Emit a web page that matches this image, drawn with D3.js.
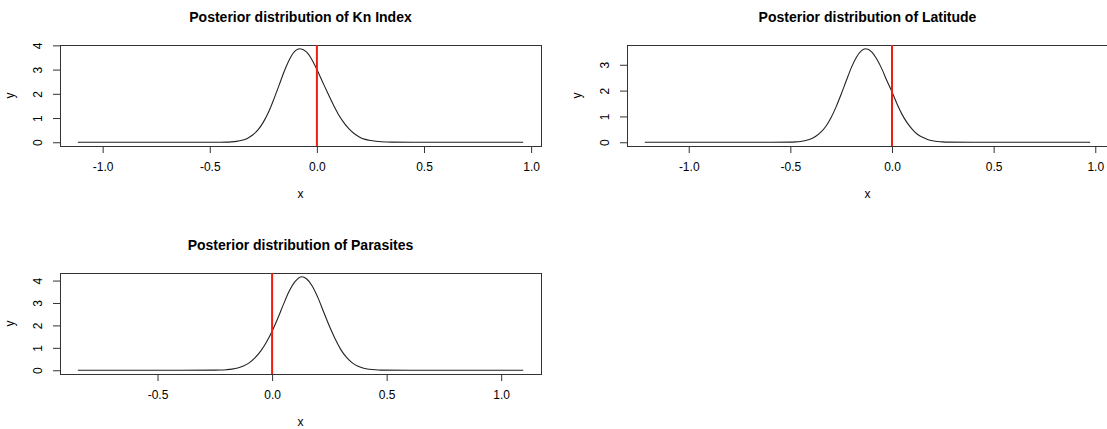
<!DOCTYPE html>
<html>
<head>
<meta charset="utf-8">
<script src="https://cdn.jsdelivr.net/npm/d3@7"></script>
<style>
body { margin: 0; background: #fff; }
text { font-family: "Liberation Sans", Arial, Helvetica, sans-serif; fill: #000; }
</style>
</head>
<body>
<div id="chart"></div>
<script>
// data
var titles = ["Posterior distribution of Kn Index",
              "Posterior distribution of Latitude",
              "Posterior distribution of Parasites"];

var knX = [-1.116, -0.55, -0.45, -0.425, -0.40, -0.375, -0.35, -0.325, -0.30, -0.275,
           -0.25, -0.225, -0.20, -0.175, -0.15, -0.125, -0.10, -0.08, -0.05, -0.025,
           0, 0.025, 0.05, 0.075, 0.10, 0.125, 0.15, 0.175, 0.20, 0.225,
           0.25, 0.275, 0.30, 0.325, 0.35, 0.45, 0.963];
var knY = [0, 0, 0.003, 0.007, 0.017, 0.038, 0.08, 0.16, 0.30, 0.51,
           0.83, 1.26, 1.80, 2.39, 2.98, 3.47, 3.78, 3.86, 3.74, 3.44,
           3.0, 2.52, 2.04, 1.58, 1.16, 0.82, 0.55, 0.35, 0.21, 0.12,
           0.07, 0.04, 0.02, 0.01, 0.005, 0, 0];

var latX = [-1.216, -0.65, -0.50, -0.475, -0.45, -0.425, -0.40, -0.375, -0.35, -0.325,
            -0.30, -0.275, -0.25, -0.225, -0.20, -0.175, -0.15, -0.13, -0.10, -0.075,
            -0.05, -0.025, 0, 0.025, 0.05, 0.075, 0.10, 0.125, 0.15, 0.175,
            0.20, 0.225, 0.25, 0.275, 0.40, 0.975];
var latY = [0, 0, 0.007, 0.015, 0.032, 0.065, 0.125, 0.23, 0.39, 0.62,
            0.95, 1.37, 1.86, 2.38, 2.89, 3.29, 3.55, 3.62, 3.50, 3.22,
            2.84, 2.38, 1.95, 1.48, 1.07, 0.75, 0.50, 0.31, 0.19, 0.11,
            0.06, 0.03, 0.015, 0.007, 0, 0];

var parX = [-0.848, -0.40, -0.25, -0.225, -0.20, -0.175, -0.15, -0.125, -0.10, -0.075,
            -0.05, -0.025, 0, 0.025, 0.05, 0.075, 0.10, 0.13, 0.15, 0.175,
            0.20, 0.225, 0.25, 0.275, 0.30, 0.325, 0.35, 0.375, 0.40, 0.425,
            0.45, 0.475, 0.60, 1.096];
var parY = [0, 0, 0.004, 0.01, 0.025, 0.05, 0.1, 0.19, 0.33, 0.55,
            0.85, 1.25, 1.74, 2.32, 2.95, 3.53, 3.95, 4.17, 4.08, 3.76,
            3.24, 2.6, 1.97, 1.4, 0.92, 0.57, 0.33, 0.18, 0.09, 0.045,
            0.02, 0.008, 0, 0];

var xTicks = [[-1, -0.5, 0, 0.5, 1], [-1, -0.5, 0, 0.5, 1], [-0.5, 0, 0.5, 1]];
var yTicks = [[0, 1, 2, 3, 4], [0, 1, 2, 3], [0, 1, 2, 3, 4]];
var refValue = 0;

// layout (2 x 2 grid, the right column is cut by the window)
var W = 1107, H = 429;
var panelW = 567, panelH = 228;
var m = [45, 26, 82, 60]; //top right bottom left
var w = panelW - m[1] - m[3];
var h = panelH - m[0] - m[2];

var panels = [
  {title: titles[0], xs: knX, ys: knY, xt: xTicks[0], yt: yTicks[0], col: 0, row: 0},
  {title: titles[1], xs: latX, ys: latY, xt: xTicks[1], yt: yTicks[1], col: 1, row: 0},
  {title: titles[2], xs: parX, ys: parY, xt: xTicks[2], yt: yTicks[2], col: 0, row: 1}
];

var svg = d3.select("#chart").append("svg")
  .attr("width", W)
  .attr("height", H);

// R style 4% padding of the data range
function padded(ext) {
  var r = ext[1] - ext[0];
  return [ext[0] - 0.04 * r, ext[1] + 0.04 * r];
}

panels.forEach(function(p) {
  var pts = p.xs.map(function(d, i) { return [d, p.ys[i]]; });

  var x = d3.scaleLinear().domain(padded(d3.extent(p.xs))).range([0, w]);
  var y = d3.scaleLinear().domain(padded([0, d3.max(p.ys)])).range([h, 0]);

  var g = svg.append("g")
    .attr("transform", "translate(" + (p.col * panelW + m[3]) + "," + (p.row * panelH + m[0]) + ")");

  // x axis
  var xa = g.append("g")
    .attr("transform", "translate(0," + h + ")")
    .call(d3.axisBottom(x).tickValues(p.xt).tickSize(7).tickPadding(9)
      .tickFormat(function(d) { return d.toFixed(1); }));
  xa.select(".domain").remove();
  xa.selectAll("line").attr("stroke", "#333");
  xa.selectAll("text").attr("font-size", 12).attr("font-family", null);

  // y axis, labels parallel to the axis
  var ya = g.append("g")
    .call(d3.axisLeft(y).tickValues(p.yt).tickSize(7)
      .tickFormat(function(d) { return d; }));
  ya.select(".domain").remove();
  ya.selectAll("line").attr("stroke", "#333");
  ya.selectAll("text")
    .attr("x", 0)
    .attr("dy", 0)
    .attr("text-anchor", "middle")
    .attr("font-size", 12)
    .attr("font-family", null)
    .attr("transform", "translate(-18,0) rotate(-90)");

  // plot box
  g.append("rect")
    .attr("x", 0.5)
    .attr("y", 0.5)
    .attr("width", w)
    .attr("height", h)
    .attr("fill", "none")
    .attr("stroke", "#333");

  // density curve
  g.append("path")
    .datum(pts)
    .attr("fill", "none")
    .attr("stroke", "#222")
    .attr("stroke-width", 1.1)
    .attr("d", d3.line()
      .x(function(d) { return x(d[0]); })
      .y(function(d) { return y(d[1]); })
      .curve(d3.curveMonotoneX));

  // reference line at zero
  g.append("line")
    .attr("x1", x(refValue))
    .attr("x2", x(refValue))
    .attr("y1", 0)
    .attr("y2", h)
    .attr("stroke", "#f21c0c")
    .attr("stroke-width", 2);

  // titles and axis labels
  g.append("text")
    .attr("x", w / 2)
    .attr("y", 22 - m[0])
    .attr("text-anchor", "middle")
    .attr("font-size", 14)
    .attr("font-weight", "bold")
    .text(p.title);

  g.append("text")
    .attr("x", w / 2)
    .attr("y", 198 - m[0])
    .attr("text-anchor", "middle")
    .attr("font-size", 12)
    .text("x");

  g.append("text")
    .attr("transform", "translate(" + (14 - m[3]) + "," + (h / 2) + ") rotate(-90)")
    .attr("text-anchor", "middle")
    .attr("font-size", 12)
    .text("y");
});
</script>
</body>
</html>
